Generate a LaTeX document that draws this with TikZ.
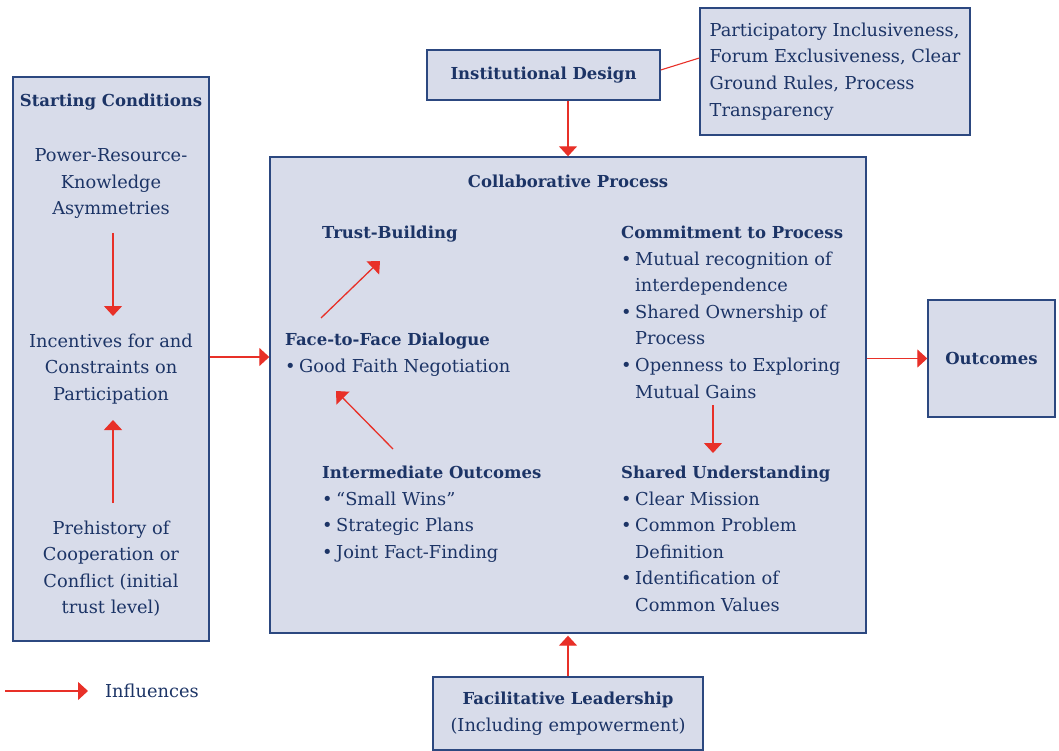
\documentclass[tikz,border=0pt]{standalone}
\usepackage{fontspec}
\setmainfont{DejaVu Serif}
\usetikzlibrary{arrows.meta,calc}
\definecolor{boxfill}{RGB}{216,220,234}
\definecolor{boxline}{RGB}{44,72,128}
\definecolor{ink}{RGB}{28,52,102}
\definecolor{flow}{RGB}{232,48,40}
\newcommand\hb[1]{{\fontsize{16.5}{26.6}\selectfont\bfseries #1}}
\newcommand\bul{\makebox[14pt][l]{•}}
\newcommand\ind{\hspace*{14pt}}
\begin{document}
\begin{tikzpicture}[x=1pt,y=-1pt,
  panel/.style={draw=boxline,fill=boxfill,line width=1.4pt,inner sep=0pt},
  txt/.style={text=ink,inner sep=0pt,font=\fontsize{17.8}{26.6}\selectfont},
  head/.style={text=ink,inner sep=0pt,font=\fontsize{16.5}{26.6}\selectfont\bfseries},
  inf/.style={draw=flow,line width=1.3pt,-{Triangle[length=10pt,width=18pt]}},
  link/.style={draw=flow,line width=1.1pt},
]
\useasboundingbox (0,0) rectangle (1059,751);

% boxes
\node[panel,minimum width=196pt,minimum height=564pt] (start) at (111,359) {};
\node[panel,minimum width=596pt,minimum height=476pt] (main) at (568,395) {};
\node[panel,minimum width=233pt,minimum height=50pt,head] (inst) at (543.5,75) {Institutional Design};
\node[panel,minimum width=270pt,minimum height=127pt,txt,align=left] (part) at (835,71.5)
  {Participatory Inclusiveness,\\Forum Exclusiveness, Clear\\Ground Rules, Process\\Transparency};
\node[panel,minimum width=127pt,minimum height=117pt,head] (out) at (991.5,358.5) {Outcomes};
\node[panel,minimum width=270pt,minimum height=73pt,txt,align=center] (facil) at (568,713.5)
  {\hb{Facilitative Leadership}\\(Including empowerment)};

% starting conditions
\node[head,anchor=north] (sctitle) at (111,93.8) {Starting Conditions};
\node[txt,align=center,anchor=north] (asym) at (111,148.3) {Power-Resource-\\Knowledge\\Asymmetries};
\node[txt,align=center,anchor=north] (incent) at (111,333.3) {Incentives for and\\Constraints on\\Participation};
\node[txt,align=center,anchor=north] (prehist) at (111,520.3) {Prehistory of\\Cooperation or\\Conflict (initial\\trust level)};

% collaborative process
\node[head,anchor=north] (collab) at (568,174.8) {Collaborative Process};
\node[head,anchor=north west] (trust) at (322,225.8) {Trust-Building};
\node[txt,align=left,anchor=north west] (face) at (285,332.8)
  {\hb{Face-to-Face Dialogue}\\\bul Good Faith Negotiation};
\node[txt,align=left,anchor=north west] (inter) at (322,465.8)
  {\hb{Intermediate Outcomes}\\\bul “Small Wins”\\\bul Strategic Plans\\\bul Joint Fact-Finding};
\node[txt,align=left,anchor=north west] (commit) at (621,225.8)
  {\hb{Commitment to Process}\\\bul Mutual recognition of\\\ind interdependence\\\bul Shared Ownership of\\\ind Process\\\bul Openness to Exploring\\\ind Mutual Gains};
\node[txt,align=left,anchor=north west] (shared) at (621,465.8)
  {\hb{Shared Understanding}\\\bul Clear Mission\\\bul Common Problem\\\ind Definition\\\bul Identification of\\\ind Common Values};

% legend
\coordinate (lg) at (5,691);
\node[txt,anchor=west] (legtext) at (105,691) {Influences};

% influences
\draw[inf] ($(asym.north)+(2,84.7)$) -- ($(incent.north)+(2,-17.3)$);
\draw[inf] ($(prehist.north)+(2,-17.3)$) -- ($(incent.north)+(2,86.7)$);
\draw[inf] ($(start.east)+(0,-2)$) -- ($(start.east -| main.west)+(0,-2)$);
\draw[inf] (inst.south -| main.north) -- (main.north);
\draw[inf,shorten >=2pt] (facil.north) -- (main.south);
\draw[inf] (main.east |- out.west) -- (out.west);
\draw[link] ($(inst.east)+(0,-5)$) -- ($(part.west)+(0,-13.5)$);
\draw[inf] ($(face.north west)+(36,-14.8)$) -- ($(face.north west)+(95,-71.8)$);
\draw[inf] ($(inter.north west)+(71,-16.8)$) -- ($(inter.north west)+(14,-74.8)$);
\draw[inf] ($(shared.north west)+(92,-60.8)$) -- ($(shared.north west)+(92,-12.8)$);
\draw[inf,shorten >=17pt] (lg) -- (legtext.west);
\end{tikzpicture}
\end{document}
